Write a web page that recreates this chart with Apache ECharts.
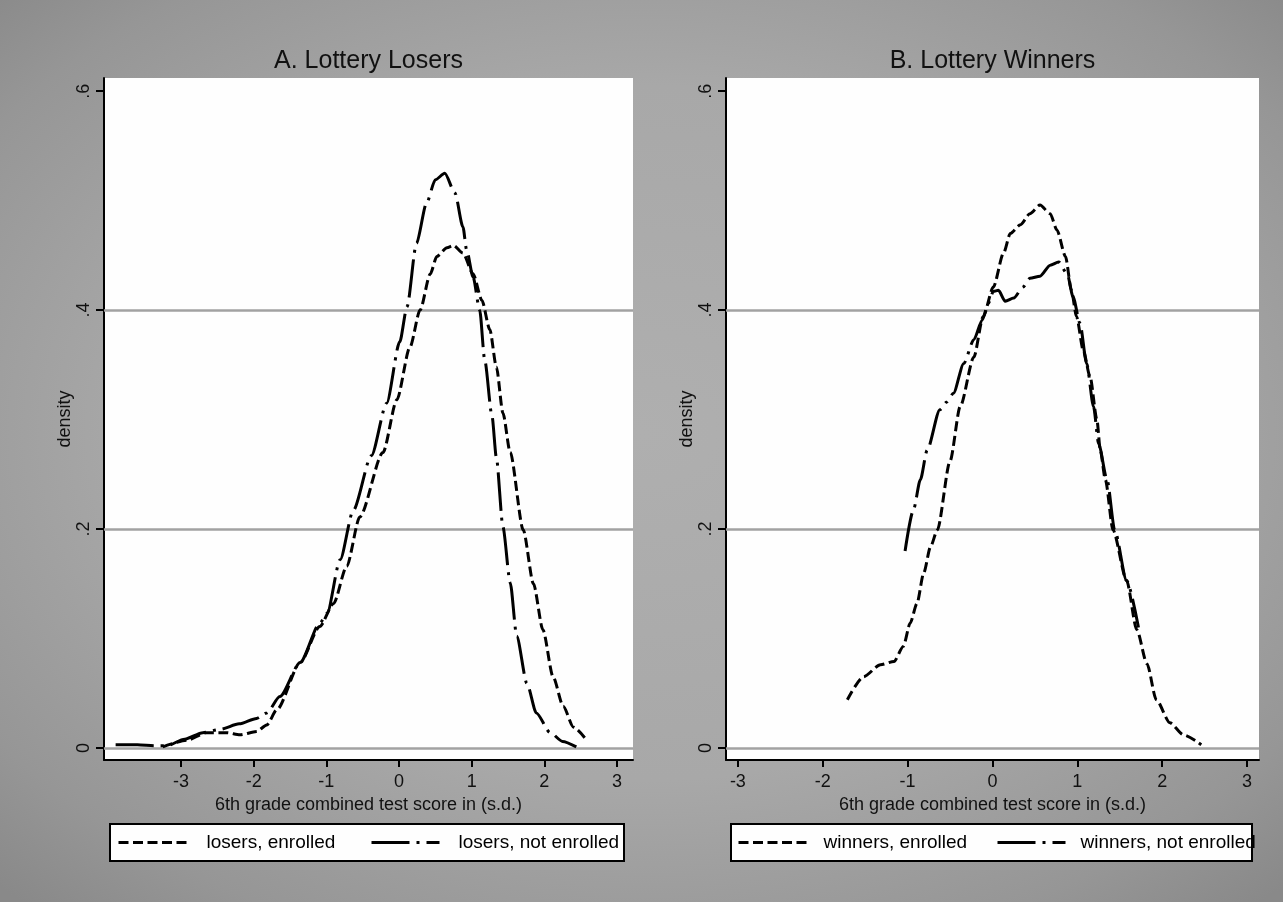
<!DOCTYPE html>
<html>
<head>
<meta charset="utf-8">
<script src="https://cdn.jsdelivr.net/npm/echarts@6/dist/echarts.min.js"></script>
<style>
  html, body { margin: 0; padding: 0; }
  #chart {
    width: 1283px; height: 902px;
    background: radial-gradient(ellipse 72% 70% at 50% 48%, #afafaf 0%, #a8a8a8 55%, #969696 85%, #898989 100%);
  }
</style>
</head>
<body>
<div id="chart"></div>
<script>
// ---------------- data ----------------
const panelTitles = ['A. Lottery Losers', 'B. Lottery Winners'];
const xAxisTitle = '6th grade combined test score in (s.d.)';
const yAxisTitle = 'density';
const seriesNames = ['losers, enrolled', 'losers, not enrolled', 'winners, enrolled', 'winners, not enrolled'];
const xTicks = [-3, -2, -1, 0, 1, 2, 3];
const yTicks = [0, 0.2, 0.4, 0.6];
const yGridValues = [0, 0.2, 0.4];

const losersEnrolledX = [-3.25,-2.92,-2.65,-2.37,-2.19,-1.96,-1.82,-1.68,-1.36,-1.09,-0.90,-0.72,-0.54,-0.22,-0.03,0.15,0.29,0.43,0.52,0.66,0.75,0.88,1.02,1.14,1.25,1.34,1.43,1.53,1.71,1.85,1.98,2.12,2.26,2.40,2.56];
const losersEnrolledY = [0.001,0.007,0.014,0.014,0.012,0.015,0.021,0.035,0.078,0.111,0.132,0.166,0.211,0.270,0.318,0.366,0.400,0.433,0.449,0.457,0.459,0.452,0.433,0.409,0.382,0.348,0.306,0.270,0.199,0.150,0.108,0.065,0.038,0.019,0.009];

const losersNotEnrolledX = [-3.90,-3.60,-3.36,-3.20,-2.95,-2.70,-2.46,-2.20,-1.96,-1.82,-1.64,-1.36,-1.09,-0.99,-0.81,-0.63,-0.38,-0.17,0.01,0.11,0.24,0.38,0.50,0.63,0.77,0.88,0.93,1.02,1.11,1.18,1.28,1.34,1.43,1.53,1.62,1.76,1.89,2.08,2.25,2.44];
const losersNotEnrolledY = [0.003,0.003,0.002,0.002,0.008,0.014,0.017,0.022,0.027,0.032,0.047,0.078,0.114,0.123,0.172,0.217,0.267,0.315,0.371,0.403,0.461,0.498,0.519,0.525,0.507,0.476,0.455,0.430,0.400,0.354,0.303,0.265,0.202,0.151,0.102,0.059,0.032,0.014,0.006,0.001];

const winnersEnrolledX = [-1.71,-1.52,-1.32,-1.16,-1.05,-0.97,-0.89,-0.81,-0.73,-0.65,-0.50,-0.38,-0.22,-0.11,0.01,0.13,0.21,0.33,0.44,0.56,0.68,0.76,0.86,0.93,0.99,1.07,1.15,1.23,1.27,1.33,1.42,1.58,1.70,1.82,1.93,2.09,2.25,2.46];
const winnersEnrolledY = [0.044,0.065,0.076,0.079,0.093,0.114,0.132,0.160,0.184,0.199,0.262,0.312,0.357,0.394,0.421,0.452,0.470,0.478,0.488,0.496,0.488,0.473,0.449,0.418,0.394,0.363,0.339,0.300,0.272,0.245,0.199,0.153,0.108,0.077,0.044,0.023,0.012,0.003];

const winnersNotEnrolledX = [-1.03,-0.93,-0.85,-0.77,-0.62,-0.54,-0.46,-0.34,-0.22,-0.12,-0.05,0.01,0.07,0.15,0.25,0.36,0.44,0.56,0.68,0.78,0.88,0.95,1.03,1.11,1.19,1.25,1.35,1.44,1.58,1.72];
const winnersNotEnrolledY = [0.180,0.218,0.245,0.272,0.309,0.316,0.324,0.351,0.373,0.391,0.406,0.417,0.418,0.408,0.411,0.421,0.429,0.431,0.441,0.444,0.433,0.412,0.388,0.351,0.312,0.278,0.245,0.199,0.153,0.110];

// ---------------- chart ----------------
const FONT = "'Liberation Sans', Arial, Helvetica, sans-serif";
const pairs = (xs, ys) => xs.map((x, i) => [x, ys[i]]);
const DASH = [10, 4.5];
const DASHDOT = [38, 7, 3, 7];

const chart = echarts.init(document.getElementById('chart'), null, { renderer: 'canvas' });

const grids = [
  { left: 104, top: 78, width: 529, height: 682 },
  { left: 726, top: 78, width: 533, height: 682 }
];
const xRanges = [[-4.06, 3.22], [-3.14, 3.14]];

function xAxisDef(i) {
  return {
    type: 'value', gridIndex: i, min: xRanges[i][0], max: xRanges[i][1],
    name: xAxisTitle, nameLocation: 'middle', nameGap: 36,
    nameTextStyle: { fontFamily: FONT, fontSize: 18, color: '#111' },
    axisLine: { show: true, onZero: false, lineStyle: { color: '#000', width: 2 } },
    axisTick: { show: true, length: 7, customValues: xTicks, lineStyle: { color: '#000', width: 2 } },
    axisLabel: { customValues: xTicks, margin: 13, fontFamily: FONT, fontSize: 18, color: '#111',
                 formatter: v => String(v) },
    splitLine: { show: false }
  };
}
function yAxisDef(i) {
  return {
    type: 'value', gridIndex: i, min: -0.011, max: 0.612,
    name: yAxisTitle, nameLocation: 'middle', nameGap: 24, nameRotate: 90,
    nameTextStyle: { fontFamily: FONT, fontSize: 18, color: '#111' },
    axisLine: { show: true, onZero: false, lineStyle: { color: '#000', width: 2 } },
    axisTick: { show: true, length: 8, customValues: yTicks, lineStyle: { color: '#000', width: 2 } },
    axisLabel: { customValues: yTicks, rotate: 90, margin: 11, fontFamily: FONT, fontSize: 18, color: '#111',
                 formatter: v => (v === 0 ? '0' : String(+v.toFixed(1)).replace(/^0/, '')) },
    splitLine: { show: false }
  };
}

function lineSeries(name, xs, ys, gi, dash, withGrid) {
  const s = {
    name, type: 'line', xAxisIndex: gi, yAxisIndex: gi,
    data: pairs(xs, ys), symbol: 'none', showSymbol: false,
    smooth: 0.25, smoothMonotone: 'x',
    lineStyle: { color: '#000', width: 3, type: dash, cap: 'butt' },
    itemStyle: { color: '#000' },
    animation: false, silent: true, z: 3
  };
  if (withGrid) {
    s.markLine = {
      silent: true, symbol: 'none', animation: false, z: 1,
      label: { show: false },
      lineStyle: { color: '#a2a2a2', width: 2.5, type: 'solid' },
      data: yGridValues.map(v => ({ yAxis: v }))
    };
  }
  return s;
}

function legendDef(name, left, pad) {
  return {
    data: [name], left: left, top: 833, padding: 0, selectedMode: false,
    itemWidth: 68, itemHeight: 14,
    itemStyle: { opacity: 0, color: 'rgba(0,0,0,0)', borderWidth: 0 },
    lineStyle: { color: '#000', width: 3, opacity: 1 },
    textStyle: { fontFamily: FONT, fontSize: 19, color: '#000', padding: [0, 0, 0, pad] }
  };
}

const option = {
  backgroundColor: 'transparent',
  animation: false,
  grid: grids.map(g => Object.assign({ show: true, backgroundColor: '#fefefe', borderWidth: 0 }, g)),
  xAxis: [xAxisDef(0), xAxisDef(1)],
  yAxis: [yAxisDef(0), yAxisDef(1)],
  legend: [
    legendDef(seriesNames[0], 117, 15),
    legendDef(seriesNames[1], 370, 14),
    legendDef(seriesNames[2], 737, 12),
    legendDef(seriesNames[3], 996, 10)
  ],
  graphic: [
    { type: 'text', z: 10, silent: true,
      x: (grids[0].left + grids[0].left + grids[0].width) / 2, y: 61,
      style: { text: panelTitles[0], font: `25px ${FONT}`, fill: '#111', align: 'center', verticalAlign: 'middle' } },
    { type: 'text', z: 10, silent: true,
      x: (grids[1].left + grids[1].left + grids[1].width) / 2, y: 61,
      style: { text: panelTitles[1], font: `25px ${FONT}`, fill: '#111', align: 'center', verticalAlign: 'middle' } },
    { type: 'rect', z: -1, silent: true, shape: { x: 110, y: 824, width: 514, height: 37 },
      style: { fill: '#fefefe', stroke: null } },
    { type: 'rect', z: -1, silent: true, shape: { x: 731, y: 824, width: 521, height: 37 },
      style: { fill: '#fefefe', stroke: null } },
    { type: 'rect', z: 100, silent: true, shape: { x: 110, y: 824, width: 514, height: 37 },
      style: { fill: null, stroke: '#000', lineWidth: 2 } },
    { type: 'rect', z: 100, silent: true, shape: { x: 731, y: 824, width: 521, height: 37 },
      style: { fill: null, stroke: '#000', lineWidth: 2 } }
  ],
  series: [
    lineSeries(seriesNames[0], losersEnrolledX, losersEnrolledY, 0, DASH, true),
    lineSeries(seriesNames[1], losersNotEnrolledX, losersNotEnrolledY, 0, DASHDOT, false),
    lineSeries(seriesNames[2], winnersEnrolledX, winnersEnrolledY, 1, DASH, true),
    lineSeries(seriesNames[3], winnersNotEnrolledX, winnersNotEnrolledY, 1, DASHDOT, false)
  ]
};
chart.setOption(option);
</script>
</body>
</html>
